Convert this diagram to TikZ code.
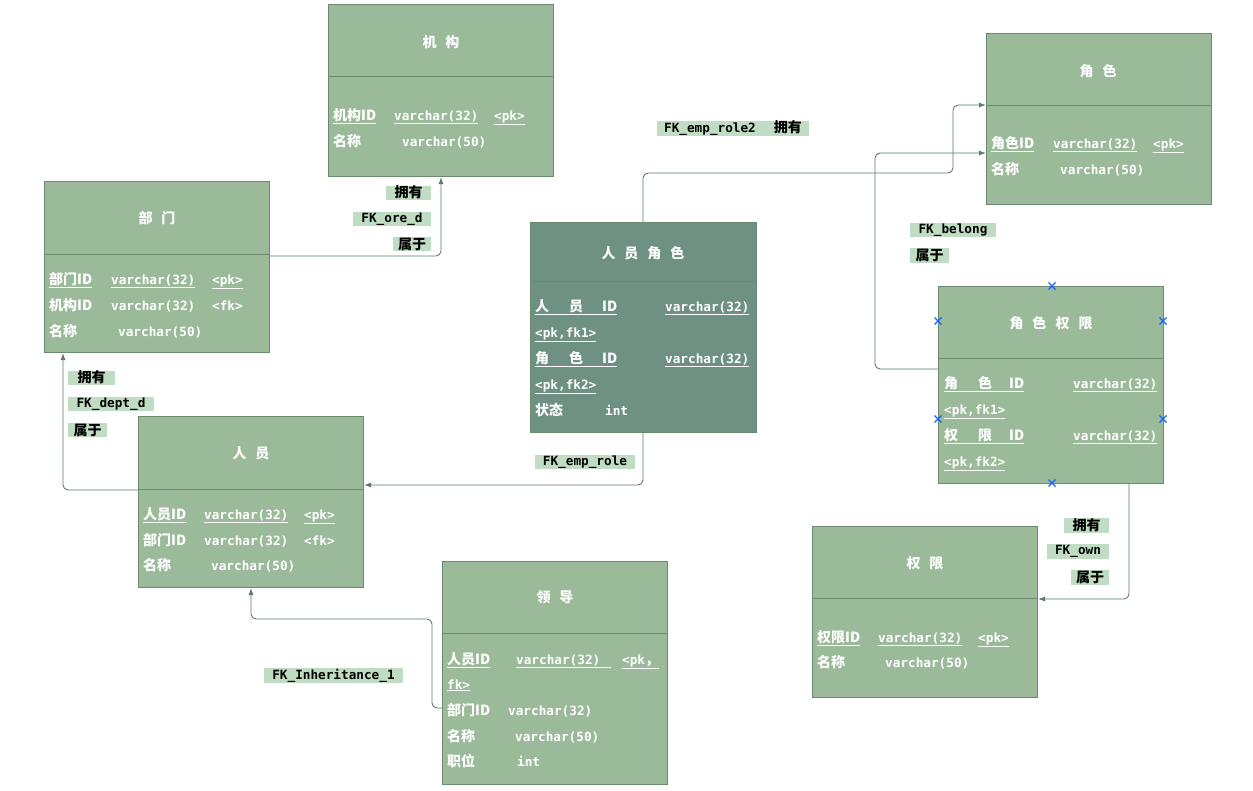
\documentclass[tikz,border=0pt]{standalone}
\usepackage{fontspec}
\setmainfont{Noto Sans CJK SC}
\newfontfamily\monof{DejaVu Sans Mono}
\usetikzlibrary{arrows.meta}
\definecolor{entfill}{RGB}{154,186,154}
\definecolor{entdark}{RGB}{111,145,130}
\definecolor{entline}{RGB}{108,138,110}
\definecolor{lblfill}{RGB}{192,220,194}
\definecolor{connc}{RGB}{95,122,105}
\definecolor{selblue}{RGB}{20,100,255}
\newcommand{\cjkfs}{\bfseries\fontsize{14}{16}\selectfont}
\newcommand{\monofs}{\monof\bfseries\fontsize{12.7}{15}\selectfont}
\newcommand{\tsp}{\hspace{9pt}}
\tikzset{
  ent/.style={draw=entline, line width=1pt, fill=entfill, rectangle, inner sep=0pt, anchor=north west},
  divl/.style={draw=entline, line width=1pt},
  ttl/.style={text=white, font=\cjkfs, inner sep=0pt},
  fn/.style={text=white, font=\cjkfs, inner sep=0pt, anchor=base west},
  ft/.style={text=white, font=\monofs, inner sep=0pt, anchor=base west},
  lbl/.style={fill=lblfill, inner sep=0pt, font=\cjkfs, text=black},
  conn/.style={draw=connc, line width=0.9pt, rounded corners=5pt, -{Latex[length=7pt,width=5pt]}},
  sel/.style={draw=selblue, line width=1.1pt}
}
\begin{document}
\begin{tikzpicture}[x=1pt,y=-1pt]
\useasboundingbox[fill=white] (0,0) rectangle (1253,790);

% ---------- 机构 ----------
\node[ent, minimum width=225pt, minimum height=172pt] (jigou) at (328,4) {};
\draw[divl] (328,76) -- (553,76);
\node[ttl] (jigouT) at (441,42) {机\tsp 构};
\node[fn] (jg1a) at (333,120) {\underline{机构ID}};
\node[ft] (jg1b) at (394,120) {\underline{varchar(32)}};
\node[ft] (jg1c) at (494,120) {\underline{<pk>}};
\node[fn] (jg2a) at (333,146) {名称};
\node[ft] (jg2b) at (402,146) {varchar(50)};

% ---------- 部门 ----------
\node[ent, minimum width=225pt, minimum height=171pt] (bumen) at (44,181) {};
\draw[divl] (44,254) -- (269,254);
\node[ttl] (bumenT) at (157,218) {部\tsp 门};
\node[fn] (bm1a) at (49,284) {\underline{部门ID}};
\node[ft] (bm1b) at (111,284) {\underline{varchar(32)}};
\node[ft] (bm1c) at (212,284) {\underline{<pk>}};
\node[fn] (bm2a) at (49,310) {机构ID};
\node[ft] (bm2b) at (111,310) {varchar(32)};
\node[ft] (bm2c) at (212,310) {<fk>};
\node[fn] (bm3a) at (49,336) {名称};
\node[ft] (bm3b) at (118,336) {varchar(50)};

% ---------- 人员 ----------
\node[ent, minimum width=225pt, minimum height=171pt] (renyuan) at (138,416) {};
\draw[divl] (138,489) -- (363,489);
\node[ttl] (renyuanT) at (251,453) {人\tsp 员};
\node[fn] (ry1a) at (143,519) {\underline{人员ID}};
\node[ft] (ry1b) at (204,519) {\underline{varchar(32)}};
\node[ft] (ry1c) at (304,519) {\underline{<pk>}};
\node[fn] (ry2a) at (143,545) {部门ID};
\node[ft] (ry2b) at (204,545) {varchar(32)};
\node[ft] (ry2c) at (304,545) {<fk>};
\node[fn] (ry3a) at (143,570) {名称};
\node[ft] (ry3b) at (211,570) {varchar(50)};

% ---------- 人员角色 ----------
\node[ent, fill=entdark, minimum width=226pt, minimum height=210pt] (ryjs) at (530,222) {};
\draw[divl] (530,281) -- (756,281);
\node[ttl] (ryjsT) at (643,253) {人\tsp 员\tsp 角\tsp 色};
\node[fn] (rj1a) at (535,311) {\underline{人\hspace{20pt}员\hspace{19pt}ID}};
\node[ft] (rj1b) at (665,311) {\underline{varchar(32)}};
\node[ft] (rj2a) at (535,337) {\underline{<pk,fk1>}};
\node[fn] (rj3a) at (535,363) {\underline{角\hspace{20pt}色\hspace{19pt}ID}};
\node[ft] (rj3b) at (665,363) {\underline{varchar(32)}};
\node[ft] (rj4a) at (535,389) {\underline{<pk,fk2>}};
\node[fn] (rj5a) at (535,415) {状态};
\node[ft] (rj5b) at (605,415) {int};

% ---------- 角色 ----------
\node[ent, minimum width=225pt, minimum height=171pt] (juese) at (986,33) {};
\draw[divl] (986,105) -- (1211,105);
\node[ttl] (jueseT) at (1098,71) {角\tsp 色};
\node[fn] (js1a) at (991,148) {\underline{角色ID}};
\node[ft] (js1b) at (1053,148) {\underline{varchar(32)}};
\node[ft] (js1c) at (1153,148) {\underline{<pk>}};
\node[fn] (js2a) at (991,174) {名称};
\node[ft] (js2b) at (1060,174) {varchar(50)};

% ---------- 角色权限 ----------
\node[ent, minimum width=225pt, minimum height=197pt] (jsqx) at (938,286) {};
\draw[divl] (938,358) -- (1163,358);
\node[ttl] (jsqxT) at (1051,323) {角\tsp 色\tsp 权\tsp 限};
\node[fn] (jq1a) at (944,388) {\underline{角\hspace{20pt}色\hspace{17pt}ID}};
\node[ft] (jq1b) at (1073,388) {\underline{varchar(32)}};
\node[ft] (jq2a) at (944,414) {\underline{<pk,fk1>}};
\node[fn] (jq3a) at (944,440) {\underline{权\hspace{20pt}限\hspace{17pt}ID}};
\node[ft] (jq3b) at (1073,440) {\underline{varchar(32)}};
\node[ft] (jq4a) at (944,466) {\underline{<pk,fk2>}};

% ---------- 权限 ----------
\node[ent, minimum width=225pt, minimum height=171pt] (quanxian) at (812,526) {};
\draw[divl] (812,598) -- (1037,598);
\node[ttl] (quanxianT) at (925,563) {权\tsp 限};
\node[fn] (qx1a) at (817,642) {\underline{权限ID}};
\node[ft] (qx1b) at (878,642) {\underline{varchar(32)}};
\node[ft] (qx1c) at (978,642) {\underline{<pk>}};
\node[fn] (qx2a) at (817,667) {名称};
\node[ft] (qx2b) at (885,667) {varchar(50)};

% ---------- 领导 ----------
\node[ent, minimum width=225pt, minimum height=223pt] (lingdao) at (442,561) {};
\draw[divl] (442,633) -- (667,633);
\node[ttl] (lingdaoT) at (555,597) {领\tsp 导};
\node[fn] (ld1a) at (447,664) {\underline{人员ID}};
\node[ft] (ld1b) at (516,664) {\underline{varchar(32)\hspace{11pt}}};
\node[ft] (ld1c) at (622,664) {\underline{<pk{\normalfont\cjkfs ，}}};
\node[ft] (ld2a) at (447,689) {\underline{fk>}};
\node[fn] (ld3a) at (447,715) {部门ID};
\node[ft] (ld3b) at (508,715) {varchar(32)};
\node[fn] (ld4a) at (447,741) {名称};
\node[ft] (ld4b) at (515,741) {varchar(50)};
\node[fn] (ld5a) at (447,766) {职位};
\node[ft] (ld5b) at (517,766) {int};

% ---------- selection markers ----------
\foreach \x/\y in {1052/286, 938/321, 1163/321, 938/419, 1163/419, 1052/483}
  \draw[sel] (\x-3.5,\y-3.5) -- (\x+3.5,\y+3.5) (\x-3.5,\y+3.5) -- (\x+3.5,\y-3.5);

% ---------- connectors ----------
\draw[conn] (bumen.east |- 0,256) -| (441,0 |- jigou.south);
\draw[conn] (renyuan.west |- 0,490) -| (63,0 |- bumen.south);
\draw[conn] (643,0 |- ryjs.south) |- (renyuan.east |- 0,485);
\draw[conn] (643,0 |- ryjs.north) -- (643,173) -| (953,105) -- (juese.west |- 0,105);
\draw[conn] (jsqx.west |- 0,369) -| (875,153) -- (juese.west |- 0,153);
\draw[conn] (1129,0 |- jsqx.south) |- (quanxian.east |- 0,599);
\draw[conn] (lingdao.west |- 0,708) -| (432,619) -| (251,0 |- renyuan.south);

% ---------- labels ----------
\node[lbl, minimum width=152pt, minimum height=15pt] (lrole2) at (733,128.5) {{\monofs FK\_emp\_role2}\hspace{18pt}拥有};
\node[lbl, minimum width=45pt, minimum height=14pt] (lore1) at (408.5,192.5) {拥有};
\node[lbl, minimum width=78pt, minimum height=14pt] (lore2) at (392,219) {\monofs FK\_ore\_d};
\node[lbl, minimum width=38pt, minimum height=14pt] (lore3) at (412,244) {属于};
\node[lbl, minimum width=86pt, minimum height=14pt] (lbel1) at (953,230) {\monofs FK\_belong};
\node[lbl, minimum width=39pt, minimum height=15pt] (lbel2) at (929.5,255.5) {属于};
\node[lbl, minimum width=47pt, minimum height=14pt] (ldep1) at (91.5,377.5) {拥有};
\node[lbl, minimum width=86pt, minimum height=14pt] (ldep2) at (111,404) {\monofs FK\_dept\_d};
\node[lbl, minimum width=39pt, minimum height=14pt] (ldep3) at (87.5,430) {属于};
\node[lbl, minimum width=100pt, minimum height=14pt] (lemp) at (585,462) {\monofs FK\_emp\_role};
\node[lbl, minimum width=139pt, minimum height=15pt] (linh) at (333.5,675.5) {\monofs FK\_Inheritance\_1};
\node[lbl, minimum width=45pt, minimum height=15pt] (lown1) at (1086.5,525.5) {拥有};
\node[lbl, minimum width=62pt, minimum height=15pt] (lown2) at (1078,551.5) {\monofs FK\_own};
\node[lbl, minimum width=38pt, minimum height=15pt] (lown3) at (1090,577.5) {属于};
\end{tikzpicture}
\end{document}
